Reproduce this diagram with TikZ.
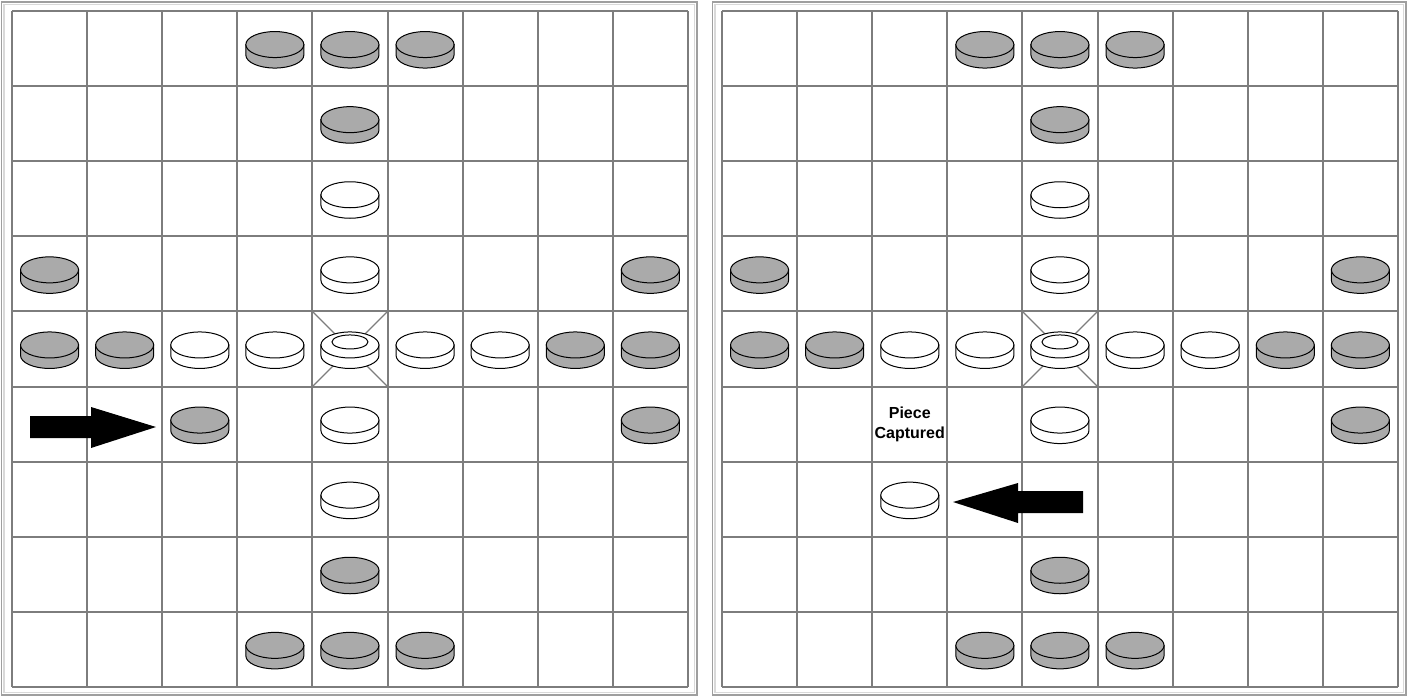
\documentclass[tikz,border=0pt]{standalone}
\usepackage{fontspec}
\newfontfamily\labelfont{Liberation Sans}
\definecolor{stone}{RGB}{170,170,170}
\definecolor{gridgray}{RGB}{125,125,125}
\tikzset{
  gridline/.style={draw=gridgray,line width=1pt},
  diagline/.style={draw=gridgray,line width=0.6pt},
  outline/.style={draw=black,line width=0.5pt},
  pics/piece/.style={code={
    \filldraw[outline,fill=#1] (-14.5pt,2pt) -- (-14.5pt,-3.25pt)
      arc[start angle=180,end angle=360,x radius=14.5pt,y radius=6.5pt]
      -- (14.5pt,2pt) -- cycle;
    \filldraw[outline,fill=#1] (0pt,2pt) ellipse[x radius=14.5pt,y radius=6.5pt];
  }},
  pics/king/.style={code={
    \pic {piece=white};
    \draw[outline] (0pt,3.5pt) ellipse[x radius=9pt,y radius=3.5pt];
  }},
  captext/.style={font=\labelfont\bfseries\fontsize{8}{10}\selectfont,align=center,inner sep=0pt}
}
\begin{document}
\begin{tikzpicture}[x=0.5pt,y=-0.5pt]
\useasboundingbox (0,0) rectangle (1407,696);

\foreach \bx/\fl/\fr in {12/1.5/697, 722/712.5/1406}{
  \draw[gray!75,line width=0.6pt] (\fl,2) rectangle (\fr,695);
  \draw[gray!30,line width=0.6pt] (\fl+2.5,4.5) rectangle (\fr-2.5,692.5);
  \begin{scope}[shift={(\bx,11)},x=37.55pt,y=-37.55pt]
    \foreach \k in {0,...,9}{
      \draw[gridline] (\k,0) -- (\k,9);
      \draw[gridline] (0,\k) -- (9,\k);
    }
    \draw[diagline] (4,4) -- (5,5) (5,4) -- (4,5);
    \foreach \c/\r in {3/0,4/0,5/0,4/1,0/3,8/3,0/4,1/4,7/4,8/4,8/5,4/7,3/8,4/8,5/8}
      \pic at (\c+.5,\r+.5) {piece=stone};
    \foreach \c/\r in {4/2,4/3,2/4,3/4,5/4,6/4,4/5}
      \pic at (\c+.5,\r+.5) {piece=white};
    \pic at (4.5,4.5) {king};
  \end{scope}
}

\begin{scope}[shift={(12,11)},x=37.55pt,y=-37.55pt]
  \pic at (2.5,5.5) {piece=stone};
  \pic at (4.5,6.5) {piece=white};
\end{scope}
\fill[black] (30,416) -- (91,416) -- (91,407) -- (156,427) -- (91,448) -- (91,438) -- (30,438) -- cycle;

\begin{scope}[shift={(722,11)},x=37.55pt,y=-37.55pt]
  \pic at (2.5,6.5) {piece=white};
  \node[captext] (captured) at (2.5,5.5) {Piece\\Captured};
\end{scope}
\fill[black] (953,502) -- (1018,483) -- (1018,491) -- (1083,491) -- (1083,513) -- (1018,513) -- (1018,523) -- cycle;
\end{tikzpicture}
\end{document}
